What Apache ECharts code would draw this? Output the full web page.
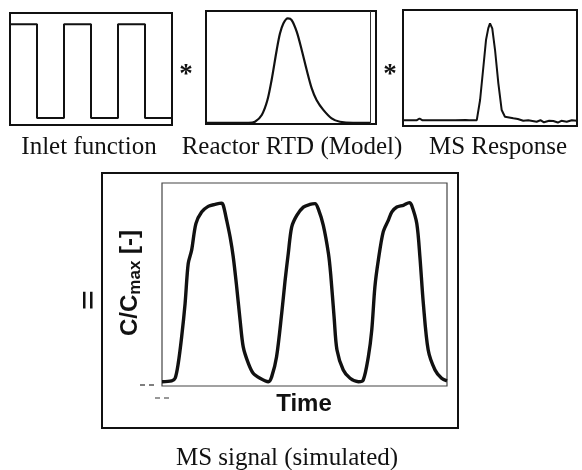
<!DOCTYPE html>
<html>
<head>
<meta charset="utf-8">
<script src="https://cdn.jsdelivr.net/npm/echarts@6/dist/echarts.min.js"></script>
<style>html,body{margin:0;padding:0;background:#fff;}#c{width:582px;height:470px;}</style>
</head>
<body>
<div id="c"></div>
<script>
// ---- data ----
const panelLabels = ['Inlet function', 'Reactor RTD (Model)', 'MS Response'];
const mainXLabel = 'Time';
const mainCaption = 'MS signal (simulated)';

// inlet square wave [time, level]
const inletData = [[0,0],[0,1],[1,1],[1,0],[2,0],[2,1],[3,1],[3,0],[4,0],[4,1],[5,1],[5,0],[6,0]];

// reactor RTD model [time, E]
const rtdData = [[0,0.01],[25,0.01],[28.8,0.02],[32.8,0.08],[36.1,0.21],[38.6,0.39],[41.6,0.655],[43.5,0.80],[45.5,0.89],[48.1,0.935],[50.4,0.92],[53.4,0.815],[56.3,0.655],[59.2,0.48],[62.2,0.315],[65.1,0.21],[69,0.125],[73.9,0.05],[78.8,0.02],[86.5,0.01],[96.5,0.01]];

// MS response [time, signal]
const msData = [[0,0.05],[8,0.05],[9.5,0.065],[11,0.05],[17,0.05],[18,0.062],[19.5,0.05],[30,0.05],[36,0.052],[37,0.06],[38,0.05],[42.4,0.05],[44.3,0.224],[46.2,0.511],[47.7,0.741],[49,0.842],[50,0.885],[51.3,0.842],[52.9,0.655],[54.8,0.368],[56.7,0.138],[58.6,0.08],[63.4,0.066],[66,0.06],[69.1,0.045],[72,0.05],[76.8,0.037],[79,0.05],[81,0.032],[84,0.045],[86.4,0.043],[89,0.03],[91,0.045],[94.1,0.037],[97,0.05],[100,0.045]];

// simulated MS signal [time, C/Cmax]
const mainData = [[0,0.024],[3.4,0.029],[4.6,0.043],[5.7,0.126],[6.9,0.274],[8.1,0.459],[9.2,0.682],[10.4,0.756],[11.9,0.904],[13.9,0.968],[16.2,1.0],[18.6,1.011],[20.9,1.018],[21.5,1.006],[22.7,0.922],[23.9,0.829],[25.0,0.718],[26.2,0.552],[27.4,0.367],[28.5,0.218],[30.3,0.126],[32.0,0.071],[34.4,0.043],[37.3,0.024],[38.5,0.052],[40.2,0.163],[42.0,0.404],[43.2,0.589],[44.3,0.737],[45.5,0.885],[47.3,0.95],[49.6,0.996],[51.9,1.011],[53.7,1.015],[54.8,0.987],[56.6,0.894],[58.4,0.737],[59.2,0.62],[60.4,0.38],[61.4,0.2],[63.6,0.089],[66.0,0.043],[68.9,0.024],[70.6,0.033],[72.4,0.163],[73.6,0.311],[74.7,0.552],[75.9,0.70],[77.6,0.857],[79.4,0.922],[80.6,0.968],[82.4,0.996],[84.7,1.006],[86.8,1.021],[87.6,1.006],[89.4,0.904],[90.5,0.718],[91.7,0.459],[93.4,0.2],[95.8,0.089],[98.1,0.043],[100,0.029]];

const chart = echarts.init(document.getElementById('c'), null, {renderer: 'canvas'});

function ax(idx, min, max) {
  return {type: 'value', gridIndex: idx, min: min, max: max, show: false};
}
const serif = 'Liberation Serif';
const sans = 'Liberation Sans';

const option = {
  animation: false,
  backgroundColor: '#fff',
  grid: [
    {left: 10, top: 13, width: 162, height: 112, show: true, borderColor: '#111', borderWidth: 2, backgroundColor: 'transparent'},
    {left: 206, top: 11, width: 170, height: 113, show: true, borderColor: '#111', borderWidth: 2, backgroundColor: 'transparent'},
    {left: 403, top: 10, width: 174, height: 116, show: true, borderColor: '#111', borderWidth: 2, backgroundColor: 'transparent'},
    {left: 162, top: 183, width: 285, height: 203, show: true, borderColor: '#444', borderWidth: 1.2, backgroundColor: 'transparent'}
  ],
  xAxis: [ax(0, 0, 6), ax(1, 0, 100), ax(2, 0, 100), ax(3, 0, 100)],
  yAxis: [ax(0, -0.075, 1.12), ax(1, 0, 1), ax(2, 0, 1), ax(3, 0, 1.13)],
  series: [
    {type: 'line', xAxisIndex: 0, yAxisIndex: 0, data: inletData, showSymbol: false, symbol: 'none',
     lineStyle: {color: '#111', width: 2}},
    {type: 'line', xAxisIndex: 1, yAxisIndex: 1, data: rtdData, showSymbol: false, symbol: 'none', smooth: 0.3,
     lineStyle: {color: '#111', width: 2.2},
     markLine: {silent: true, symbol: 'none', label: {show: false}, lineStyle: {color: '#333', width: 1, type: 'solid'}, data: [{xAxis: 96.5}]}},
    {type: 'line', xAxisIndex: 2, yAxisIndex: 2, data: msData, showSymbol: false, symbol: 'none',
     lineStyle: {color: '#111', width: 2}},
    {type: 'line', xAxisIndex: 3, yAxisIndex: 3, data: mainData, showSymbol: false, symbol: 'none', smooth: 0.3,
     lineStyle: {color: '#111', width: 3.4}}
  ],
  graphic: [
    {type: 'rect', shape: {x: 102, y: 173, width: 356, height: 255}, style: {fill: 'none', stroke: '#111', lineWidth: 2}, z: 10},
    {type: 'text', x: 89, y: 147, style: {text: panelLabels[0], font: '25px "' + serif + '"', fill: '#111', align: 'center', verticalAlign: 'middle'}},
    {type: 'text', x: 292, y: 147, style: {text: panelLabels[1], font: '25px "' + serif + '"', fill: '#111', align: 'center', verticalAlign: 'middle'}},
    {type: 'text', x: 498, y: 147, style: {text: panelLabels[2], font: '25px "' + serif + '"', fill: '#111', align: 'center', verticalAlign: 'middle'}},
    {type: 'text', x: 287, y: 458, style: {text: mainCaption, font: '25px "' + serif + '"', fill: '#111', align: 'center', verticalAlign: 'middle'}},
    {type: 'text', x: 186, y: 75, style: {text: '*', font: 'bold 27px "' + serif + '"', fill: '#111', align: 'center', verticalAlign: 'middle'}},
    {type: 'text', x: 390, y: 75, style: {text: '*', font: 'bold 27px "' + serif + '"', fill: '#111', align: 'center', verticalAlign: 'middle'}},
    {type: 'text', x: 91, y: 300, rotation: Math.PI / 2, style: {text: '=', font: 'bold 36px "' + serif + '"', fill: '#111', align: 'center', verticalAlign: 'middle'}},
    {type: 'text', x: 304, y: 404, style: {text: mainXLabel, font: 'bold 24px "' + sans + '"', fill: '#111', align: 'center', verticalAlign: 'middle'}},
    {type: 'text', x: 130, y: 283, rotation: Math.PI / 2, style: {
      text: '{a|C/C}{b|max}{a| [-]}', align: 'center', verticalAlign: 'middle', fill: '#111',
      rich: {
        a: {fontFamily: sans, fontWeight: 'bold', fontSize: 24, lineHeight: 28, fill: '#111'},
        b: {fontFamily: sans, fontWeight: 'bold', fontSize: 17, verticalAlign: 'bottom', fill: '#111'}
      }}},
    {type: 'line', shape: {x1: 140, y1: 385, x2: 157, y2: 385}, style: {stroke: '#555', lineWidth: 1.5, lineDash: [5, 4]}},
    {type: 'line', shape: {x1: 155, y1: 398, x2: 170, y2: 398}, style: {stroke: '#777', lineWidth: 1.5, lineDash: [5, 4]}}
  ]
};
chart.setOption(option);
</script>
</body>
</html>
